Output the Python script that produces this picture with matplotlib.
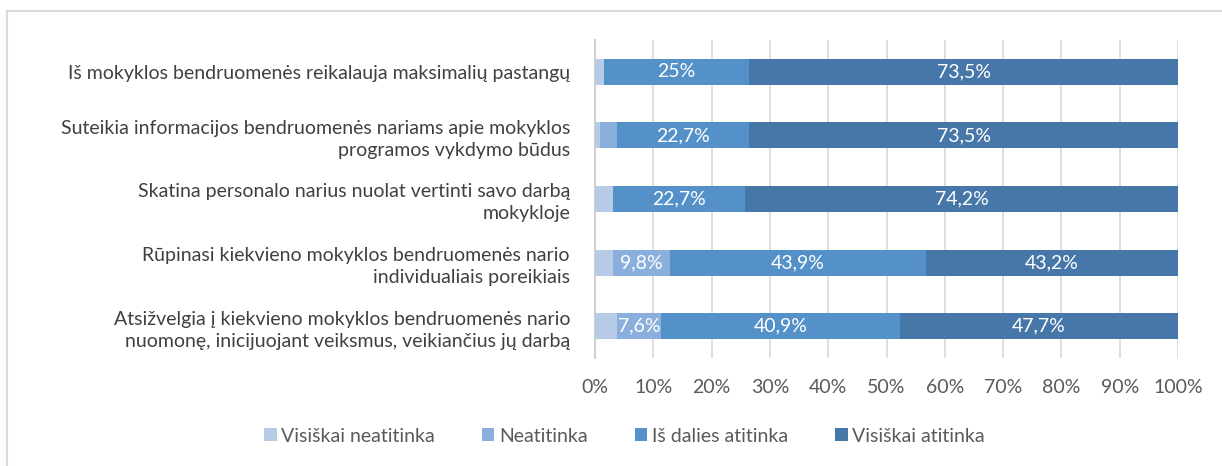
import matplotlib.pyplot as plt
import numpy as np

categories = [
    "Iš mokyklos bendruomenės reikalauja maksimalių pastangų",
    "Suteikia informacijos bendruomenės nariams apie mokyklos\nprogramos vykdymo būdus",
    "Skatina personalo narius nuolat vertinti savo darbą\nmokykloje",
    "Rūpinasi kiekvieno mokyklos bendruomenės nario\nindividualiais poreikiais",
    "Atsižvelgia į kiekvieno mokyklos bendruomenės nario\nnuomonę, inicijuojant veiksmus, veikiančius jų darbą",
]
series_names = ["Visiškai neatitinka", "Neatitinka", "Iš dalies atitinka", "Visiškai atitinka"]
visiskai_neatitinka = [1.5, 0.8, 3.1, 3.1, 3.8]
neatitinka = [0.0, 3.0, 0.0, 9.8, 7.6]
is_dalies = [25.0, 22.7, 22.7, 43.9, 40.9]
visiskai_atitinka = [73.5, 73.5, 74.2, 43.2, 47.7]
labels = [
    [None, None, None, None, None],
    [None, None, None, "9,8%", "7,6%"],
    ["25%", "22,7%", "22,7%", "43,9%", "40,9%"],
    ["73,5%", "73,5%", "74,2%", "43,2%", "47,7%"],
]
colors = ["#b7cbe6", "#8aafdc", "#5591c9", "#4677a8"]

plt.rcParams['font.family'] = ['Lato', 'DejaVu Sans']

fig = plt.figure(figsize=(12.22, 4.66), dpi=100)
ax = fig.add_axes([595 / 1222, 1 - 358 / 466, 583 / 1222, 318 / 466])

y = np.arange(len(categories))
left = np.zeros(len(categories))
data = [visiskai_neatitinka, neatitinka, is_dalies, visiskai_atitinka]
for i, vals in enumerate(data):
    vals = np.array(vals)
    ax.barh(y, vals, left=left, height=0.41, color=colors[i], label=series_names[i], zorder=3)
    for j, v in enumerate(vals):
        if labels[i][j]:
            ax.text(left[j] + v / 2, y[j], labels[i][j], ha='center', va='center',
                    color='white', fontsize=14, zorder=4)
    left += vals

ax.set_xlim(0, 100)
ax.set_ylim(len(categories) - 0.5, -0.5)
ax.set_xticks(np.arange(0, 101, 10))
ax.set_xticklabels([f"{t}%" for t in range(0, 101, 10)], fontsize=14, color='#595959')
ax.set_yticks(y)
ax.set_yticklabels(categories, fontsize=14, color='#404040', ha='right', linespacing=1.35)
ax.tick_params(axis='x', length=0, pad=15)
ax.tick_params(axis='y', length=0, pad=18)
ax.grid(axis='x', color='#d9d9d9', linewidth=1.2, zorder=0)
for s in ['top', 'right', 'bottom']:
    ax.spines[s].set_visible(False)
ax.spines['left'].set_color('#d0d0d0')
ax.spines['left'].set_linewidth(1.5)

fig.legend(loc='center', bbox_to_anchor=(0.511, 1 - 436 / 466), ncol=4, frameon=False,
           fontsize=14, handlelength=0.65, handleheight=0.65, handletextpad=0.25,
           columnspacing=2.4, labelcolor='#595959')

border = plt.Rectangle((7 / 1222, -0.1), 1.2, 1.1 - 11 / 466, transform=fig.transFigure,
                       fill=False, edgecolor='#d9d9d9', linewidth=1.5)
fig.patches.append(border)

fig.savefig('out.png', dpi=100)
